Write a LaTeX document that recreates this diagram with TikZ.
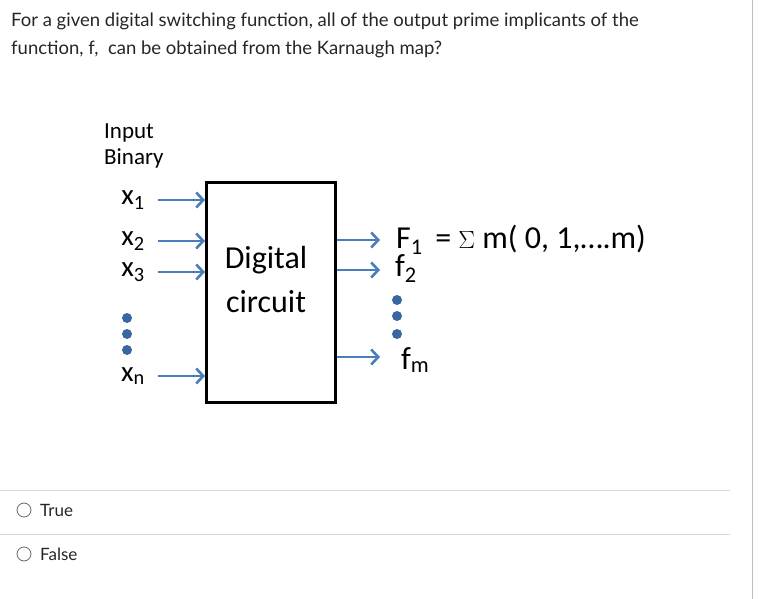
\documentclass[tikz,border=0pt]{standalone}
\usepackage{fontspec}
\setmainfont{Lato}
\newfontfamily\calfont{Carlito}
\usetikzlibrary{arrows.meta}
\definecolor{ablue}{HTML}{4A7EBB}
\definecolor{dblue}{HTML}{3A66A0}
\tikzset{
  arr/.style={ablue,line width=2.6pt,-{Straight Barb[length=7pt,width=15pt]}},
  dot/.style={circle,fill=dblue,inner sep=0pt,minimum width=8pt,minimum height=10pt},
  lab/.style={font=\calfont\fontsize{29}{29}\selectfont,inner sep=0pt},
  big/.style={font=\calfont\fontsize{32}{32}\selectfont,inner sep=0pt,anchor=west},
  q/.style={font=\fontsize{18.5}{22}\selectfont,text=black!85,inner sep=0pt,anchor=west},
  sep/.style={draw=black!15,line width=0.8pt}
}
\begin{document}
\begin{tikzpicture}[x=1pt,y=-1pt]
\useasboundingbox (0,0) rectangle (758,599);
\draw[black!25,line width=1pt] (752,0) -- (752,599);
\node[q] (q1) at (11,21) {For a given digital switching function, all of the output prime implicants of the};
\node[q] (q2) at (11,49) {function, f,\ \ can be obtained from the Karnaugh map?};
\node[font=\calfont\fontsize{23}{26}\selectfont,align=left,anchor=north west,inner sep=0pt] (inp) at (104,124) {Input\\Binary};
\node[draw,line width=3pt,minimum width=129pt,minimum height=220pt,anchor=north west,inner sep=0pt] (box) at (205,181) {};
\node[font=\calfont\fontsize{32}{44}\selectfont,align=center] (dc) at (266,280) {Digital\\circuit};
\node[lab] (x1) at (133,200) {x\textsubscript{1}};
\node[lab] (x2) at (133,241) {x\textsubscript{2}};
\node[lab] (x3) at (133,272) {x\textsubscript{3}};
\node[lab] (xn) at (133,376) {x\textsubscript{n}};
\node[dot] (d1) at (127,318) {};
\node[dot] (d2) at (127,334) {};
\node[dot] (d3) at (127,350) {};
\foreach \n/\y in {x1/200,x2/241,x3/272,xn/376}
  \draw[arr] (158,\y) -- (box.west |- 0,\y);
\coordinate (o1) at (380,240);
\coordinate (o2) at (380,270);
\coordinate (om) at (380,357);
\draw[arr] (box.east |- o1) -- (o1);
\draw[arr] (box.east |- o2) -- (o2);
\draw[arr] (box.east |- om) -- (om);
\node[big] (F1) at (396,240) {F\textsubscript{1}\ \,= $\Sigma$ m( 0, 1,\dots.m)};
\node[big] (f2) at (395,269) {f\textsubscript{2}};
\node[dot] (e1) at (397,300) {};
\node[dot] (e2) at (397,316) {};
\node[dot] (e3) at (397,334) {};
\node[big] (fm) at (401,360) {f\textsubscript{m}};
\draw[sep] (0,490) -- (730,490);
\draw[sep] (0,534) -- (730,534);
\node[draw=black!60,circle,minimum size=14pt,inner sep=0pt,line width=0.8pt] (r1) at (24,510) {};
\node[draw=black!60,circle,minimum size=14pt,inner sep=0pt,line width=0.8pt] (r2) at (24,554) {};
\node[q,font=\fontsize{17}{20}\selectfont] (t) at (40,510) {True};
\node[q,font=\fontsize{17}{20}\selectfont] (f) at (40,554) {False};
\end{tikzpicture}
\end{document}
